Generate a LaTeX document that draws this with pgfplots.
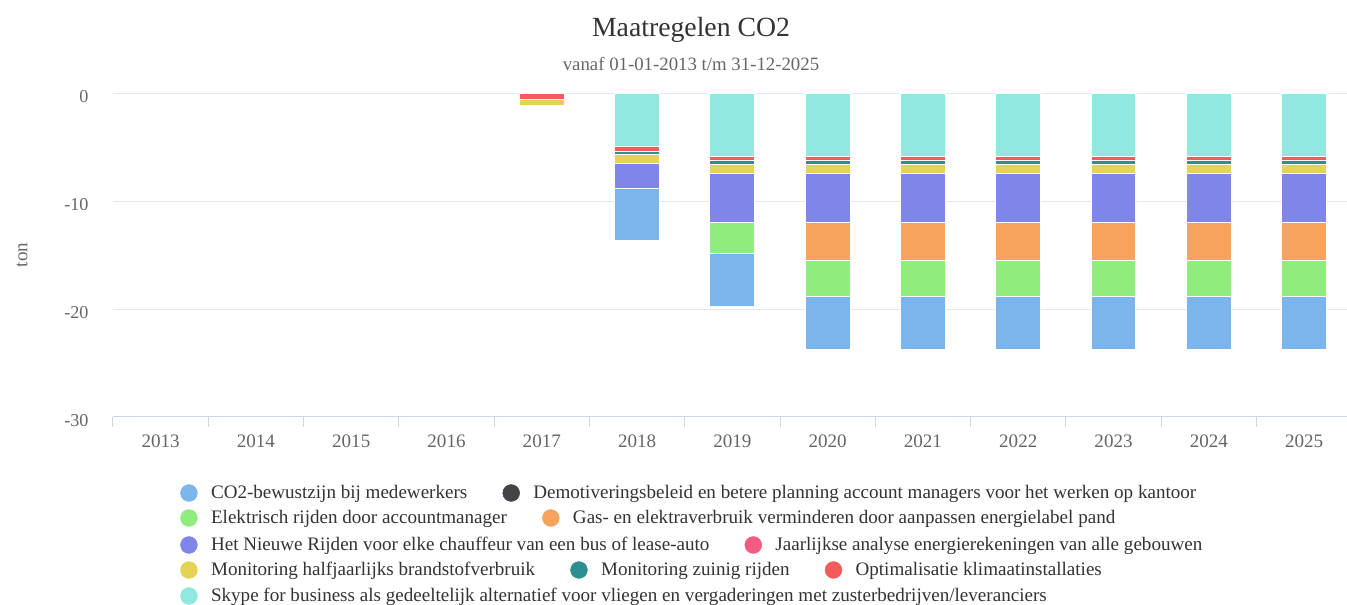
\documentclass[border=0pt]{standalone}
\usepackage{pgfplots}
\pgfplotsset{compat=1.18}
\usepackage{pgfplotstable}
\usepackage{fontspec}
\setmainfont{Liberation Serif}
\definecolor{c1}{HTML}{7CB5EC}
\definecolor{c2}{HTML}{434348}
\definecolor{c3}{HTML}{90ED7D}
\definecolor{c4}{HTML}{F7A35C}
\definecolor{c5}{HTML}{8085E9}
\definecolor{c6}{HTML}{F15C80}
\definecolor{c7}{HTML}{E4D354}
\definecolor{c8}{HTML}{2B908F}
\definecolor{c9}{HTML}{F45B5B}
\definecolor{c10}{HTML}{91E8E1}
\definecolor{txtdark}{HTML}{333333}
\definecolor{txtgray}{HTML}{666666}
\definecolor{gridgray}{HTML}{E6E6E6}
\definecolor{axisblue}{HTML}{CCD6EB}

\pgfplotstableread{
x skype red teal yellow pink purple orange green dark blue
4 0 -0.5 0 -0.55 0 0 0 0 0 0
5 -4.9 -0.45 -0.25 -0.9 0 -2.25 0 0 0 -4.9
6 -5.8 -0.4 -0.35 -0.85 0 -4.5 0 -2.95 0 -4.85
7 -5.8 -0.4 -0.35 -0.85 0 -4.5 -3.55 -3.4 0 -4.85
8 -5.8 -0.4 -0.35 -0.85 0 -4.5 -3.55 -3.4 0 -4.85
9 -5.8 -0.4 -0.35 -0.85 0 -4.5 -3.55 -3.4 0 -4.85
10 -5.8 -0.4 -0.35 -0.85 0 -4.5 -3.55 -3.4 0 -4.85
11 -5.8 -0.4 -0.35 -0.85 0 -4.5 -3.55 -3.4 0 -4.85
12 -5.8 -0.4 -0.35 -0.85 0 -4.5 -3.55 -3.4 0 -4.85
}\datatable

\pgfplotsset{
  legaxis/.style={
    at={(0pt,0pt)}, anchor=south west,
    scale only axis, width=925.5pt, height=242.25pt,
    hide axis, xmin=0, xmax=1, ymin=0, ymax=1,
    legend columns=-1,
    legend style={draw=none, fill=none, inner sep=0pt,
      font=\fontsize{14.3}{16}\selectfont, text=txtdark,
      nodes={inner sep=2pt},
      /tikz/every odd column/.append style={column sep=8.3pt},
      /tikz/every even column/.append style={column sep=24.6pt},
      anchor=west},
  },
  legdot/.style={only marks, mark=*, mark size=6.3pt, color=#1},
}

\begin{document}
\begin{tikzpicture}
\path[use as bounding box] (-84.75pt,-141pt) rectangle (925.5pt,312.75pt);
\begin{axis}[
  at={(0pt,0pt)}, anchor=south west,
  scale only axis, width=925.5pt, height=242.25pt,
  clip=false,
  ybar stacked, bar width=0.47,
  xmin=-0.5, xmax=12.45, ymin=-30, ymax=0,
  xtick={0,1,2,3,4,5,6,7,8,9,10,11,12},
  xticklabels={2013,2014,2015,2016,2017,2018,2019,2020,2021,2022,2023,2024,2025},
  minor xtick={-0.5,0.5,1.5,2.5,3.5,4.5,5.5,6.5,7.5,8.5,9.5,10.5,11.5},
  ytick={-30,-20,-10,0},
  yticklabels={-30,-20,-10,0},
  axis x line*=bottom, axis y line*=left,
  x axis line style={draw=axisblue, line width=0.75pt},
  y axis line style={draw=none},
  major tick length=0pt, minor tick length=7.5pt,
  xtick align=outside,
  every minor tick/.append style={draw=axisblue, line width=0.75pt},
  ymajorgrids, xmajorgrids=false,
  major grid style={draw=gridgray, line width=0.75pt},
  ticklabel style={font=\fontsize{14.3}{16}\selectfont, text=txtgray},
  xticklabel style={anchor=center, inner sep=0pt, yshift=-18pt},
  yticklabel style={font=\fontsize{13.6}{16}\selectfont, anchor=east, inner sep=0pt, xshift=-18.2pt, yshift=-2.3pt},
  ylabel={ton},
  ylabel style={at={(axis description cs:-0.0737,0.5015)}, anchor=center, rotate=0,
    font=\fontsize{14.3}{16}\selectfont, text=txtgray},
]
\addplot[fill=c10, draw=white, line width=0.75pt] table[x=x,y=skype]{\datatable};
\addplot[fill=c9, draw=white, line width=0.75pt] table[x=x,y=red]{\datatable};
\addplot[fill=c8, draw=white, line width=0.75pt] table[x=x,y=teal]{\datatable};
\addplot[fill=c7, draw=white, line width=0.75pt] table[x=x,y=yellow]{\datatable};
\addplot[fill=c6, draw=white, line width=0.75pt] table[x=x,y=pink]{\datatable};
\addplot[fill=c5, draw=white, line width=0.75pt] table[x=x,y=purple]{\datatable};
\addplot[fill=c4, draw=white, line width=0.75pt] table[x=x,y=orange]{\datatable};
\addplot[fill=c3, draw=white, line width=0.75pt] table[x=x,y=green]{\datatable};
\addplot[fill=c2, draw=white, line width=0.75pt] table[x=x,y=dark]{\datatable};
\addplot[fill=c1, draw=white, line width=0.75pt] table[x=x,y=blue]{\datatable};
\node[anchor=base, font=\fontsize{20.8}{24}\selectfont, text=txtdark] at (rel axis cs:0.4684,1.1774) {Maatregelen CO2};
\node[anchor=base, font=\fontsize{14.1}{16}\selectfont, text=txtgray] at (rel axis cs:0.4684,1.0712) {vanaf 01-01-2013 t/m 31-12-2025};
\end{axis}

\begin{axis}[legaxis, legend style={at={(0.0545,-0.2353)}}]
\addlegendimage{legdot=c1}\addlegendentry{CO2-bewustzijn bij medewerkers}
\addlegendimage{legdot=c2}\addlegendentry{Demotiveringsbeleid en betere planning account managers voor het werken op kantoor}
\end{axis}
\begin{axis}[legaxis, legend style={at={(0.0545,-0.3127)}}]
\addlegendimage{legdot=c3}\addlegendentry{Elektrisch rijden door accountmanager}
\addlegendimage{legdot=c4}\addlegendentry{Gas- en elektraverbruik verminderen door aanpassen energielabel pand}
\end{axis}
\begin{axis}[legaxis, legend style={at={(0.0545,-0.3963)}}]
\addlegendimage{legdot=c5}\addlegendentry{Het Nieuwe Rijden voor elke chauffeur van een bus of lease-auto}
\addlegendimage{legdot=c6}\addlegendentry{Jaarlijkse analyse energierekeningen van alle gebouwen}
\end{axis}
\begin{axis}[legaxis, legend style={at={(0.0545,-0.4737)}}]
\addlegendimage{legdot=c7}\addlegendentry{Monitoring halfjaarlijks brandstofverbruik}
\addlegendimage{legdot=c8}\addlegendentry{Monitoring zuinig rijden}
\addlegendimage{legdot=c9}\addlegendentry{Optimalisatie klimaatinstallaties}
\end{axis}
\begin{axis}[legaxis, legend style={at={(0.0545,-0.5542)}}]
\addlegendimage{legdot=c10}\addlegendentry{Skype for business als gedeeltelijk alternatief voor vliegen en vergaderingen met zusterbedrijven/leveranciers}
\end{axis}
\end{tikzpicture}
\end{document}
